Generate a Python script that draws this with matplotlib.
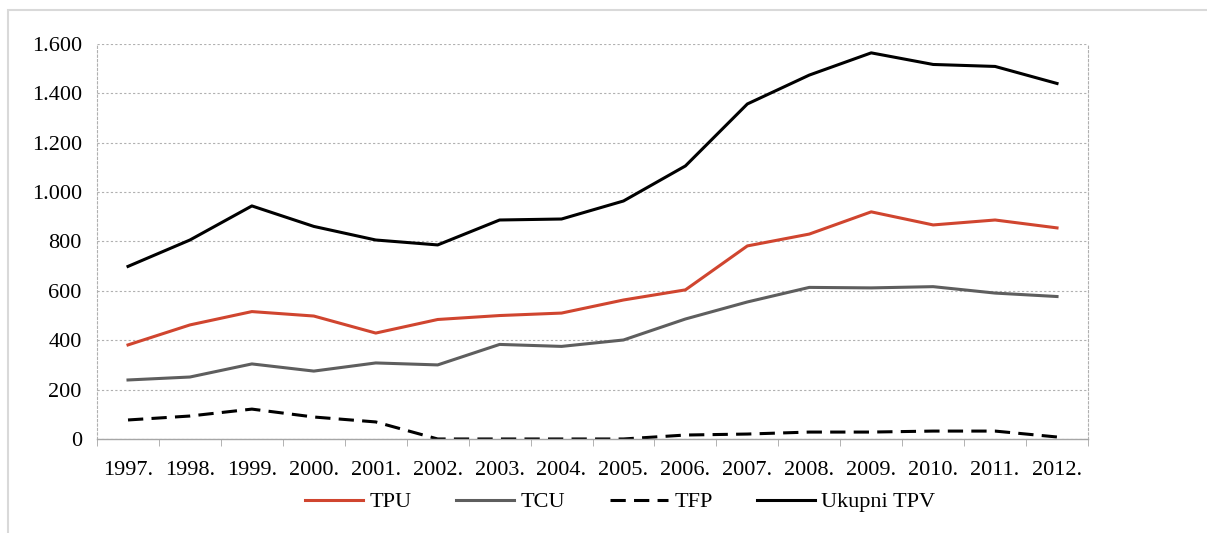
import matplotlib
matplotlib.use('Agg')
import matplotlib.pyplot as plt
from matplotlib.patches import Rectangle
from matplotlib.ticker import FuncFormatter, FixedLocator

years = ['1997.', '1998.', '1999.', '2000.', '2001.', '2002.', '2003.', '2004.',
         '2005.', '2006.', '2007.', '2008.', '2009.', '2010.', '2011.', '2012.']
tpu = [381, 462, 516, 498, 429, 484, 500, 510, 563, 604, 782, 830, 920, 867, 887, 855]
tcu = [239, 251, 304, 275, 308, 300, 383, 375, 401, 486, 555, 614, 612, 617, 591, 577]
tfp = [77, 93, 121, 89, 69, 0, 0, 0, 0, 16, 20, 28, 28, 32, 32, 8]
ukupni = [699, 806, 944, 861, 806, 786, 887, 891, 964, 1106, 1357, 1474, 1564, 1517, 1509, 1440]

plt.rcParams['font.family'] = ['Liberation Serif', 'DejaVu Serif']

fig = plt.figure(figsize=(12.07, 5.33), dpi=100)
ax = fig.add_axes([0.0804, 0.1764, 0.8210, 0.7411])

x = list(range(len(years)))
ax.plot(x, tpu, color='#d0452f', lw=2.2, label='TPU')
ax.plot(x, tcu, color='#5e5e5e', lw=2.2, label='TCU')
ax.plot(x, tfp, color='black', lw=2.2, ls=(0, (5, 2.7)), label='TFP')
ax.plot(x, ukupni, color='black', lw=2.2, label='Ukupni TPV')

ax.set_xlim(-0.5, len(years) - 0.5)
ax.set_ylim(0, 1600)
ax.set_yticks(range(0, 1601, 200))
ax.yaxis.set_major_formatter(FuncFormatter(lambda v, p: f'{int(v):,}'.replace(',', '.')))
ax.set_xticks(x)
ax.set_xticklabels(years)
ax.xaxis.set_minor_locator(FixedLocator([i - 0.5 for i in range(len(years) + 1)]))
ax.tick_params(axis='x', which='major', length=0, pad=16, labelsize=16)
ax.tick_params(axis='x', which='minor', length=5, color='#a6a6a6', direction='out')
ax.tick_params(axis='y', length=0, pad=11, labelsize=16)

ax.grid(axis='y', color='#b0b0b0', ls=(0, (2, 2)), lw=0.8)
for s in ['left', 'right']:
    ax.spines[s].set_color('#b0b0b0')
    ax.spines[s].set_linestyle((0, (2, 2)))
    ax.spines[s].set_linewidth(0.8)
ax.spines['top'].set_visible(False)
ax.spines['bottom'].set_color('#a6a6a6')
ax.spines['bottom'].set_linewidth(1.0)

fig.legend(loc='center', bbox_to_anchor=(0.514, 0.058), ncol=4, frameon=False,
           fontsize=16, handlelength=2.6, columnspacing=2.0, handletextpad=0.3)

fig.add_artist(Rectangle((0.0066, -0.05), 1.2, 1.031, transform=fig.transFigure,
                         fill=False, edgecolor='#d9d9d9', lw=1.5))

fig.savefig('out.png', dpi=100)
